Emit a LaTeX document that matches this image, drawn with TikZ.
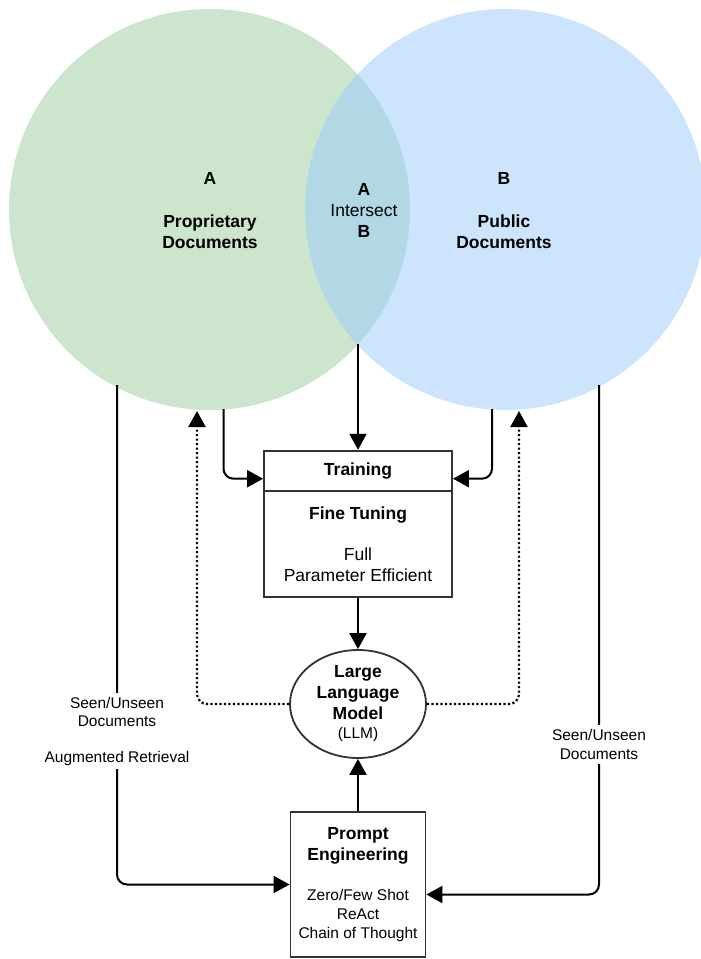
\documentclass[tikz,border=0pt]{standalone}
\usepackage{fontspec}
\setmainfont{Liberation Sans}
\usetikzlibrary{arrows.meta,calc,shapes.geometric}
\definecolor{venngreen}{HTML}{CDE4CD}
\definecolor{vennblue}{HTML}{CCE5FC}
\definecolor{vennmix}{HTML}{B2D8E5}
\definecolor{edgegray}{HTML}{333333}
\newcommand{\mainsz}{\fontsize{17.5}{21}\selectfont}
\newcommand{\smallsz}{\fontsize{15.5}{18.5}\selectfont}
\tikzset{
  conn/.style={line width=2pt, -{Triangle[length=16pt,width=17pt]}},
  dotconn/.style={line width=2.2pt, dash pattern=on 2.2pt off 2.3pt, -{Triangle[length=16pt,width=17pt]}},
  boxnode/.style={draw=edgegray, line width=1.8pt, rectangle, inner sep=0pt, align=center, font=\mainsz},
  txt/.style={align=center, inner sep=0pt, font=\mainsz},
  lbl/.style={align=center, fill=white, inner sep=2pt, font=\smallsz},
}
\begin{document}
\begin{tikzpicture}[x=1pt,y=-1pt]
\useasboundingbox (0,0) rectangle (701,959);
% Venn circles
\fill[venngreen] (209.5,209.5) circle (200.5);
\fill[vennblue] (505.5,209.5) circle (200.5);
\begin{scope}
  \clip (209.5,209.5) circle (200.5);
  \fill[vennmix] (505.5,209.5) circle (200.5);
\end{scope}
% circle texts
\node[txt] (la) at (210,178) {\bfseries A};
\node[txt] (lp) at (210,231.5) {\bfseries Proprietary\\\bfseries Documents};
\node[txt] (ix) at (364,210) {\bfseries A\\Intersect\\\bfseries B};
\node[txt] (rb) at (504,178) {\bfseries B};
\node[txt] (rp) at (504,231.5) {\bfseries Public\\\bfseries Documents};
% boxes
\node[boxnode, minimum width=188, minimum height=40] (train) at (358,470.7) {\bfseries Training};
\node[boxnode, minimum width=188, minimum height=106.3] (ft) at (358,543.9)
  {\bfseries Fine Tuning\\[20pt]Full\\Parameter Efficient};
\node[ellipse, draw=edgegray, line width=1.8pt, minimum width=136, minimum height=108, inner sep=0pt, align=center, font=\mainsz] (llm) at (358,704)
  {\bfseries Large\\\bfseries Language\\\bfseries Model\\[-2pt]{\smallsz (LLM)}};
\node[boxnode, minimum width=135, minimum height=145] (pe) at (358,884.5)
  {\bfseries Prompt\\\bfseries Engineering\\[19pt]{\smallsz Zero/Few Shot}\\[-2pt]{\smallsz ReAct}\\[-2pt]{\smallsz Chain of Thought}};
% connector end points on circles
\coordinate (ab) at (358,344);
\coordinate (lt) at (223.5,409);
\coordinate (rt) at (492,409);
\coordinate (lo) at (117,385);
\coordinate (ro) at (599,385);
\coordinate (ld) at (197,411);
\coordinate (rd) at (519,411);
% connectors
\draw[conn] (ab) -- (train.north);
\draw[conn, rounded corners=10pt] (lt) |- ($(train.west)+(0,8)$);
\draw[conn, rounded corners=10pt] (rt) |- ($(train.east)+(0,8)$);
\draw[conn] (ft.south) -- (llm.north);
\draw[conn] (pe.north) -- (llm.south);
\draw[dotconn, rounded corners=10pt] (llm.west) -| (ld);
\draw[dotconn, rounded corners=10pt] (llm.east) -| (rd);
\draw[conn, rounded corners=10pt] (lo) |- (pe.west);
\draw[conn, rounded corners=10pt] (ro) |- ($(pe.east)+(0,10)$);
% labels on the side connectors
\node[lbl, minimum height=76, inner sep=0pt] (sl) at (117,731) {Seen/Unseen\\Documents\\[17pt]Augmented Retrieval};
\node[lbl, minimum height=39, inner sep=0pt] (sr) at (599,744.5) {Seen/Unseen\\Documents};
\end{tikzpicture}
\end{document}
